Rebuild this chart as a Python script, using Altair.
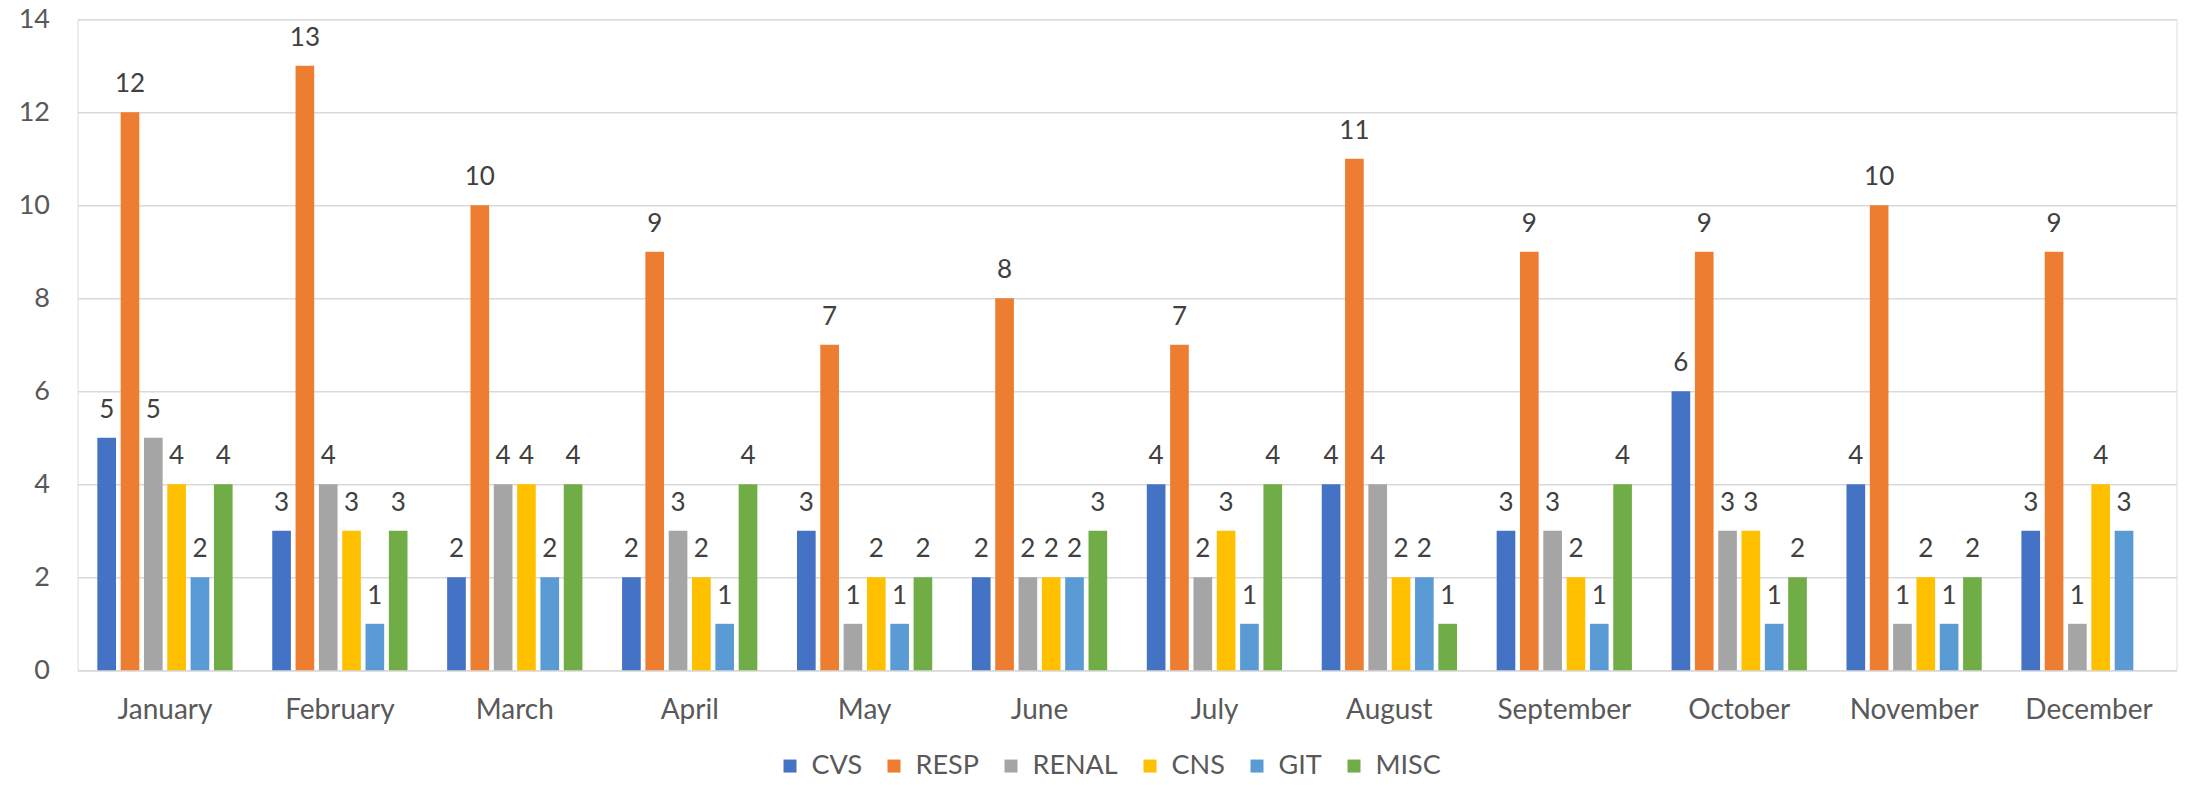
import altair as alt
import pandas as pd

months = ["January", "February", "March", "April", "May", "June", "July",
          "August", "September", "October", "November", "December"]
series = ["CVS", "RESP", "RENAL", "CNS", "GIT", "MISC"]
colors = ["#4472C4", "#ED7D31", "#A5A5A5", "#FFC000", "#5B9BD5", "#70AD47"]

cvs = [5, 3, 2, 2, 3, 2, 4, 4, 3, 6, 4, 3]
resp = [12, 13, 10, 9, 7, 8, 7, 11, 9, 9, 10, 9]
renal = [5, 4, 4, 3, 1, 2, 2, 4, 3, 3, 1, 1]
cns = [4, 3, 4, 2, 2, 2, 3, 2, 2, 3, 2, 4]
git = [2, 1, 2, 1, 1, 2, 1, 2, 1, 1, 1, 3]
misc = [4, 3, 4, 4, 2, 3, 4, 1, 4, 2, 2, None]

y_ticks = [0, 2, 4, 6, 8, 10, 12, 14]

rows = []
for name, vals in zip(series, [cvs, resp, renal, cns, git, misc]):
    for m, v in zip(months, vals):
        if v is not None:
            rows.append({"month": m, "series": name, "value": v})
df = pd.DataFrame(rows)

FONT = "Lato"

base = alt.Chart(df).encode(
    x=alt.X("month:N", sort=months,
            scale=alt.Scale(paddingInner=0.2, paddingOuter=0.1),
            axis=alt.Axis(title=None, labelAngle=0, ticks=False, domain=True,
                          domainColor="#D9D9D9", domainWidth=1.5,
                          labelFont=FONT, labelFontSize=28, labelColor="#595959",
                          labelPadding=26, grid=False)),
    xOffset=alt.XOffset("series:N", sort=series,
                        scale=alt.Scale(paddingInner=0.2, paddingOuter=0.1)),
    y=alt.Y("value:Q",
            scale=alt.Scale(domain=[0, 14], nice=False),
            axis=alt.Axis(title=None, values=y_ticks, ticks=False, domain=False,
                          grid=True, gridColor="#D9D9D9", gridWidth=1.5,
                          labelFont=FONT, labelFontSize=27, labelColor="#595959",
                          labelPadding=28)),
)

bars = base.mark_bar().encode(
    color=alt.Color("series:N", sort=series,
                    scale=alt.Scale(domain=series, range=colors),
                    legend=alt.Legend(title=None, orient="none", direction="horizontal",
                                      legendX=699, legendY=733,
                                      symbolType="square", symbolSize=169,
                                      symbolStrokeWidth=0,
                                      labelFont=FONT, labelFontSize=27,
                                      labelColor="#595959",
                                      columnPadding=18, labelOffset=8))
)

labels = base.mark_text(baseline="alphabetic", dy=-20, font=FONT, fontSize=26,
                        color="#404040").encode(text="value:Q")

chart = alt.layer(bars, labels).properties(
    width=2099, height=651,
    autosize=alt.AutoSizeParams(type="none"),
    padding={"left": 69.5, "top": 11.3, "right": 5.5, "bottom": 110},
).configure_view(stroke=None).configure(background="white")

chart.save("out.html", embed_options={"renderer": "svg", "actions": False})
